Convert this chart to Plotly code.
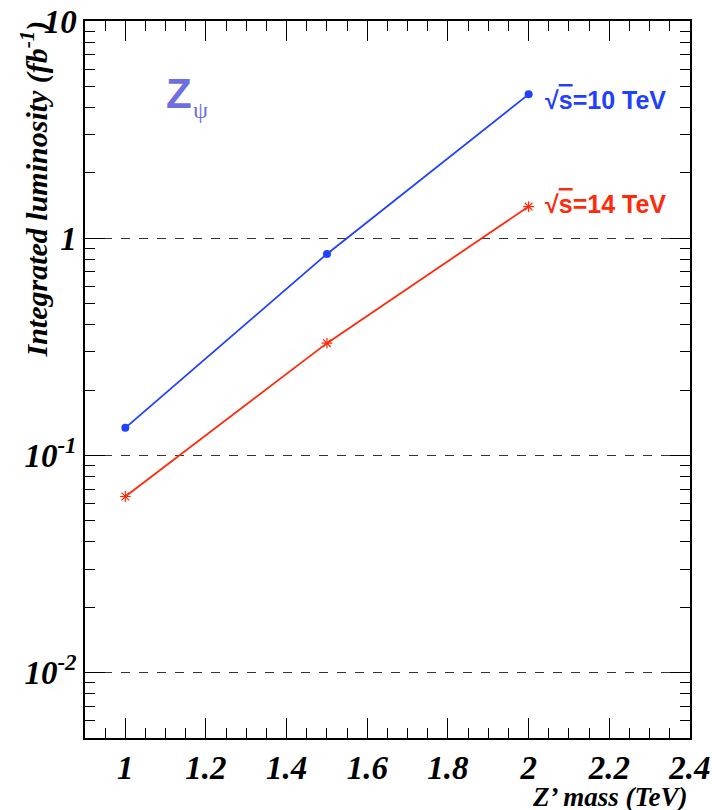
import plotly.graph_objects as go
import math

mass = [1.0, 1.5, 2.0]
lumi_10tev = [0.134, 0.847, 4.6]
lumi_14tev = [0.0647, 0.329, 1.40]
x_tickvals = [1.0, 1.2, 1.4, 1.6, 1.8, 2.0, 2.2, 2.4]
x_ticktext = ["1", "1.2", "1.4", "1.6", "1.8", "2", "2.2", "2.4"]
y_tickvals = [0.01, 0.1, 1, 10]
y_ticktext = ["10<sup>-2</sup>", "10<sup>-1</sup>", "1", "10"]

BLUE = "#1f40ff"
RED = "#ff2a0a"
ZCOL = "#6e6ee2"
serif_bi = dict(family="Liberation Serif", color="black", weight="bold", style="italic")

fig = go.Figure()
fig.add_trace(go.Scatter(x=mass, y=lumi_10tev, mode="lines+markers",
                         line=dict(color=BLUE, width=1.8),
                         marker=dict(symbol="circle", size=8, color=BLUE),
                         showlegend=False))
fig.add_trace(go.Scatter(x=mass, y=lumi_14tev, mode="lines+markers",
                         line=dict(color=RED, width=1.8),
                         marker=dict(symbol="asterisk-open", size=9,
                                     line=dict(color=RED, width=1.2)),
                         showlegend=False))

minor_y = [m * 10 ** e for e in range(-3, 1) for m in range(2, 10)]

fig.update_layout(
    width=712, height=810,
    margin=dict(l=85, r=22, t=21, b=72),
    plot_bgcolor="white", paper_bgcolor="white",
    xaxis=dict(range=[0.9, 2.4001], tickmode="array", tickvals=x_tickvals, ticktext=x_ticktext,
               ticks="inside", ticklen=20, tickwidth=1, tickcolor="black",
               minor=dict(dtick=0.05, tick0=0.9, ticks="inside", ticklen=10, tickwidth=1, tickcolor="black"),
               showline=True, linecolor="black", linewidth=1.5, mirror="allticks",
               showgrid=False, zeroline=False, automargin=False, ticklabeloverflow="allow",
               tickfont=dict(size=33, **serif_bi)),
    yaxis=dict(type="log", range=[math.log10(0.005), 1.0005], tickmode="array",
               tickvals=y_tickvals, ticktext=y_ticktext,
               ticks="inside", ticklen=20, tickwidth=1, tickcolor="black",
               minor=dict(tickmode="array", tickvals=minor_y, ticks="inside", ticklen=10,
                          tickwidth=1, tickcolor="black", showgrid=False),
               showline=True, linecolor="black", linewidth=1.5, mirror="allticks",
               showgrid=True, gridcolor="#333333", griddash="dash", gridwidth=0.8,
               zeroline=False, automargin=False, ticklabeloverflow="allow",
               tickfont=dict(size=33, **serif_bi)),
)

fig.add_annotation(xref="paper", yref="paper", x=0, y=1, xshift=-50, yshift=2,
                   text="Integrated luminosity (fb<sup>-1</sup>)", textangle=-90,
                   xanchor="center", yanchor="top", showarrow=False,
                   font=dict(size=30, **serif_bi))
fig.add_annotation(xref="paper", yref="paper", x=1, y=0, yshift=-59,
                   text="Z’ mass (TeV)", xanchor="right", yanchor="middle", showarrow=False,
                   font=dict(size=27, **serif_bi))

fig.add_annotation(xref="x", yref="y", x=2.0, y=math.log10(lumi_10tev[2]), xshift=14, yshift=-6,
                   text="√<span style='text-decoration:overline'>s</span>=10 TeV",
                   xanchor="left", yanchor="middle", showarrow=False,
                   font=dict(family="Liberation Sans", size=25, color=BLUE, weight="bold"))
fig.add_annotation(xref="x", yref="y", x=2.0, y=math.log10(lumi_14tev[2]), xshift=14, yshift=3,
                   text="√<span style='text-decoration:overline'>s</span>=14 TeV",
                   xanchor="left", yanchor="middle", showarrow=False,
                   font=dict(family="Liberation Sans", size=25, color=RED, weight="bold"))

fig.add_annotation(xref="paper", yref="paper", x=(164 - 85) / 605, y=1 - (93 - 21) / 717,
                   text="Z", xanchor="left", yanchor="middle", showarrow=False,
                   font=dict(family="Liberation Sans", size=42, color=ZCOL, weight="bold"))
fig.add_annotation(xref="paper", yref="paper", x=(191 - 85) / 605, y=1 - (110 - 21) / 717,
                   text="ψ", xanchor="left", yanchor="middle", showarrow=False,
                   font=dict(family="Liberation Serif", size=24, color=ZCOL))

fig.write_html("out.html", config={"displayModeBar": False},
               post_script="document.body.style.margin='0';")
